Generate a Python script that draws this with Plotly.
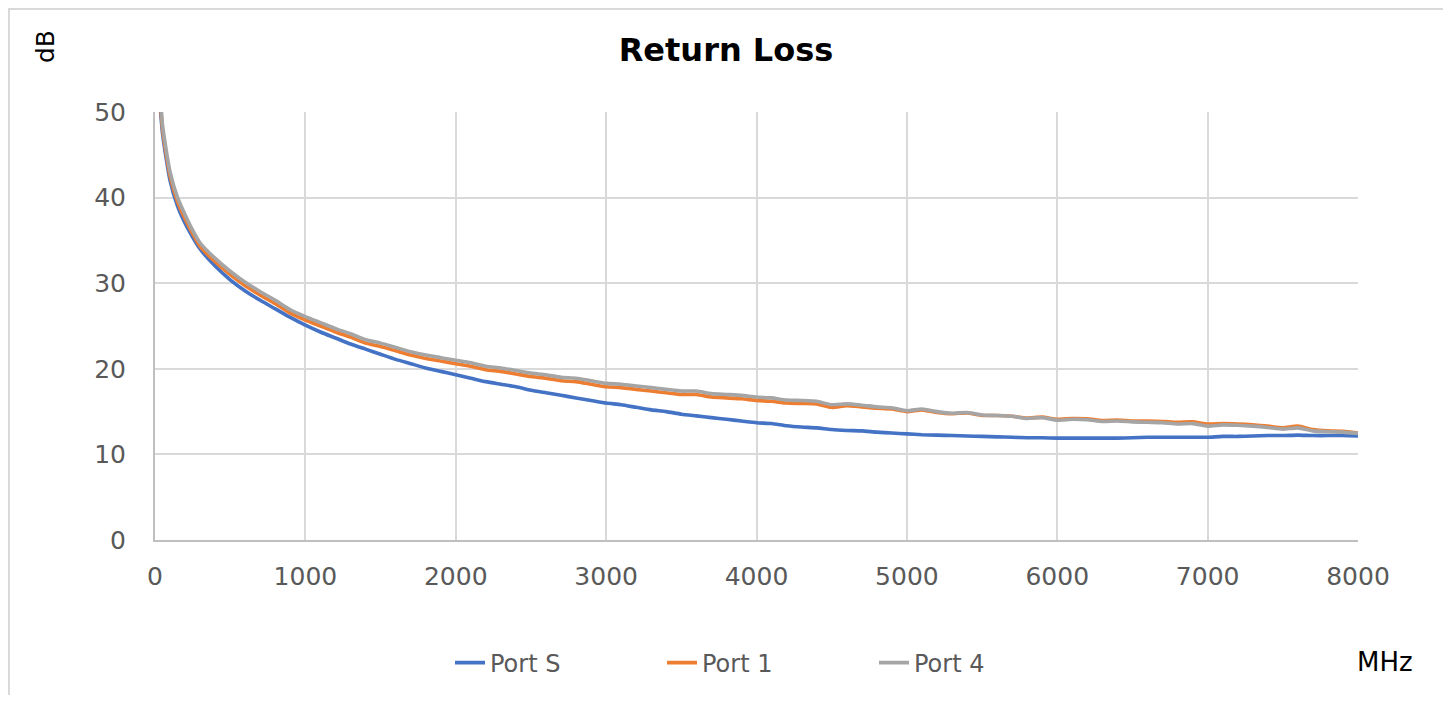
import plotly.graph_objects as go

freq = [20, 50, 75, 100, 150, 200, 250, 300, 400, 500, 600, 700, 800, 900] + list(range(1000, 8001, 100))

port_s = [54, 47.5, 44.5, 42.0, 39.0, 37.0, 35.4, 34.0, 32.0, 30.4, 29.1, 28.0, 27.0, 26.0,
          25.1, 24.3, 23.6, 22.9, 22.3, 21.7, 21.1, 20.6, 20.1, 19.7,
          19.3, 18.9, 18.5, 18.2, 17.9, 17.5, 17.2, 16.9, 16.6, 16.3,
          16.0, 15.8, 15.5, 15.2, 15.0, 14.7, 14.5, 14.3, 14.1, 13.9,
          13.7, 13.6, 13.35, 13.2, 13.1, 12.9, 12.8, 12.75, 12.6, 12.5,
          12.4, 12.3, 12.25, 12.2, 12.15, 12.1, 12.05, 12.0, 11.95, 11.95,
          11.9, 11.9, 11.9, 11.9, 11.9, 11.95, 12.0, 12.0, 12.0, 12.0,
          12.0, 12.1, 12.1, 12.15, 12.2, 12.2, 12.25, 12.2, 12.2, 12.2,
          12.15]

port_1 = [55, 48.0, 45.0, 42.5, 39.5, 37.5, 35.8, 34.3, 32.5, 31.0, 29.7, 28.6, 27.6, 26.5,
          25.7, 25.0, 24.3, 23.7, 23.0, 22.6, 22.1, 21.6, 21.2, 20.9,
          20.6, 20.3, 19.9, 19.7, 19.4, 19.1, 18.9, 18.6, 18.5, 18.2,
          17.9, 17.8, 17.6, 17.4, 17.2, 17.0, 17.0, 16.7, 16.6, 16.5,
          16.3, 16.2, 16.0, 15.95, 15.9, 15.5, 15.7, 15.55, 15.4, 15.3,
          15.0, 15.2, 14.9, 14.75, 14.85, 14.55, 14.55, 14.45, 14.25, 14.35,
          14.1, 14.2, 14.15, 13.95, 14.0, 13.9, 13.9, 13.85, 13.75, 13.8,
          13.55, 13.6, 13.55, 13.45, 13.3, 13.1, 13.3, 12.9, 12.75, 12.7,
          12.5]

port_4 = [56, 48.5, 45.5, 43.0, 40.0, 38.0, 36.2, 34.7, 32.9, 31.4, 30.1, 29.0, 28.0, 26.9,
          26.1, 25.4, 24.7, 24.1, 23.4, 23.0, 22.5, 22.0, 21.6, 21.3,
          21.0, 20.7, 20.3, 20.1, 19.8, 19.5, 19.3, 19.0, 18.9, 18.6,
          18.3, 18.2, 18.0, 17.8, 17.6, 17.4, 17.4, 17.1, 17.0, 16.9,
          16.7, 16.6, 16.35, 16.3, 16.2, 15.8, 15.9, 15.75, 15.55, 15.45,
          15.1, 15.3, 15.0, 14.8, 14.9, 14.6, 14.55, 14.45, 14.2, 14.3,
          14.0, 14.1, 14.05, 13.85, 13.9, 13.8, 13.75, 13.7, 13.55, 13.6,
          13.3, 13.45, 13.4, 13.3, 13.15, 12.95, 13.1, 12.75, 12.65, 12.6,
          12.45]

x_ticks = [0, 1000, 2000, 3000, 4000, 5000, 6000, 7000, 8000]
y_ticks = [0, 10, 20, 30, 40, 50]

FONT = "DejaVu Sans"
TICK_COLOR = "#595959"
GRID = "#D9D9D9"
AXIS = "#BFBFBF"

# page offset (body margin of the html page)
OFF = 8
W, H = 1451 - 2 * OFF, 703 - 2 * OFF
# plot area in page pixels
PL, PR, PT, PB = 155, 1358, 112, 540
L = PL - OFF
T = PT - OFF
R = W - (PR - OFF)
B = H - (PB - OFF)
pw, ph = W - L - R, H - T - B


def px_x(px):
    return (px - OFF - L) / pw


def px_y(py):
    return (H - B - (py - OFF)) / ph


fig = go.Figure()
for name, vals, col in [("Port S", port_s, "#4472C4"),
                        ("Port 1", port_1, "#ED7D31"),
                        ("Port 4", port_4, "#A5A5A5")]:
    fig.add_trace(go.Scatter(x=freq, y=vals, mode="lines", name=name,
                             line=dict(color=col, width=3.6, shape="spline", smoothing=0.6)))

fig.update_layout(
    width=W, height=H,
    margin=dict(l=L, r=R, t=T, b=B, autoexpand=False),
    paper_bgcolor="white", plot_bgcolor="white",
    font=dict(family=FONT, color=TICK_COLOR, size=24),
    title=dict(text="<b>Return Loss</b>", xref="container", x=(726 - OFF) / W, xanchor="center",
               yref="container", y=1 - (50 - OFF) / H, yanchor="middle",
               font=dict(family=FONT, size=32, color="black")),
    xaxis=dict(range=[0, 8000], tickvals=x_ticks, ticktext=[str(v) for v in x_ticks],
               showgrid=True, gridcolor=GRID, gridwidth=2,
               showline=True, linecolor=AXIS, linewidth=2, mirror=False,
               zeroline=False, ticks="", ticklabelstandoff=13,
               tickfont=dict(size=25, color=TICK_COLOR, family=FONT)),
    yaxis=dict(range=[0, 50], tickvals=y_ticks, ticktext=[str(v) for v in y_ticks],
               showgrid=True, gridcolor=GRID, gridwidth=2,
               showline=True, linecolor=AXIS, linewidth=2,
               zeroline=False, ticks="", ticklabelstandoff=22,
               tickfont=dict(size=25, color=TICK_COLOR, family=FONT)),
    legend=dict(orientation="h", x=px_x(450), xanchor="left",
                y=px_y(663), yanchor="middle",
                font=dict(size=24, color=TICK_COLOR, family=FONT),
                entrywidth=167, entrywidthmode="pixels",
                itemwidth=30, bgcolor="rgba(0,0,0,0)", traceorder="normal"),
    showlegend=True,
)

fig.add_annotation(text="dB", xref="paper", yref="paper", x=px_x(45), y=px_y(47),
                   showarrow=False, textangle=-90, xanchor="center", yanchor="middle",
                   font=dict(family=FONT, size=25, color="black"))
fig.add_annotation(text="MHz", xref="paper", yref="paper", x=px_x(1385), y=px_y(662),
                   showarrow=False, xanchor="center", yanchor="middle",
                   font=dict(family=FONT, size=26, color="black"))

fig.add_shape(type="rect", xref="paper", yref="paper",
              x0=px_x(OFF + 1), x1=px_x(1445), y0=px_y(720), y1=px_y(OFF + 1),
              line=dict(color="#D9D9D9", width=2), fillcolor="rgba(0,0,0,0)", layer="below")

fig.write_html("out.html")
